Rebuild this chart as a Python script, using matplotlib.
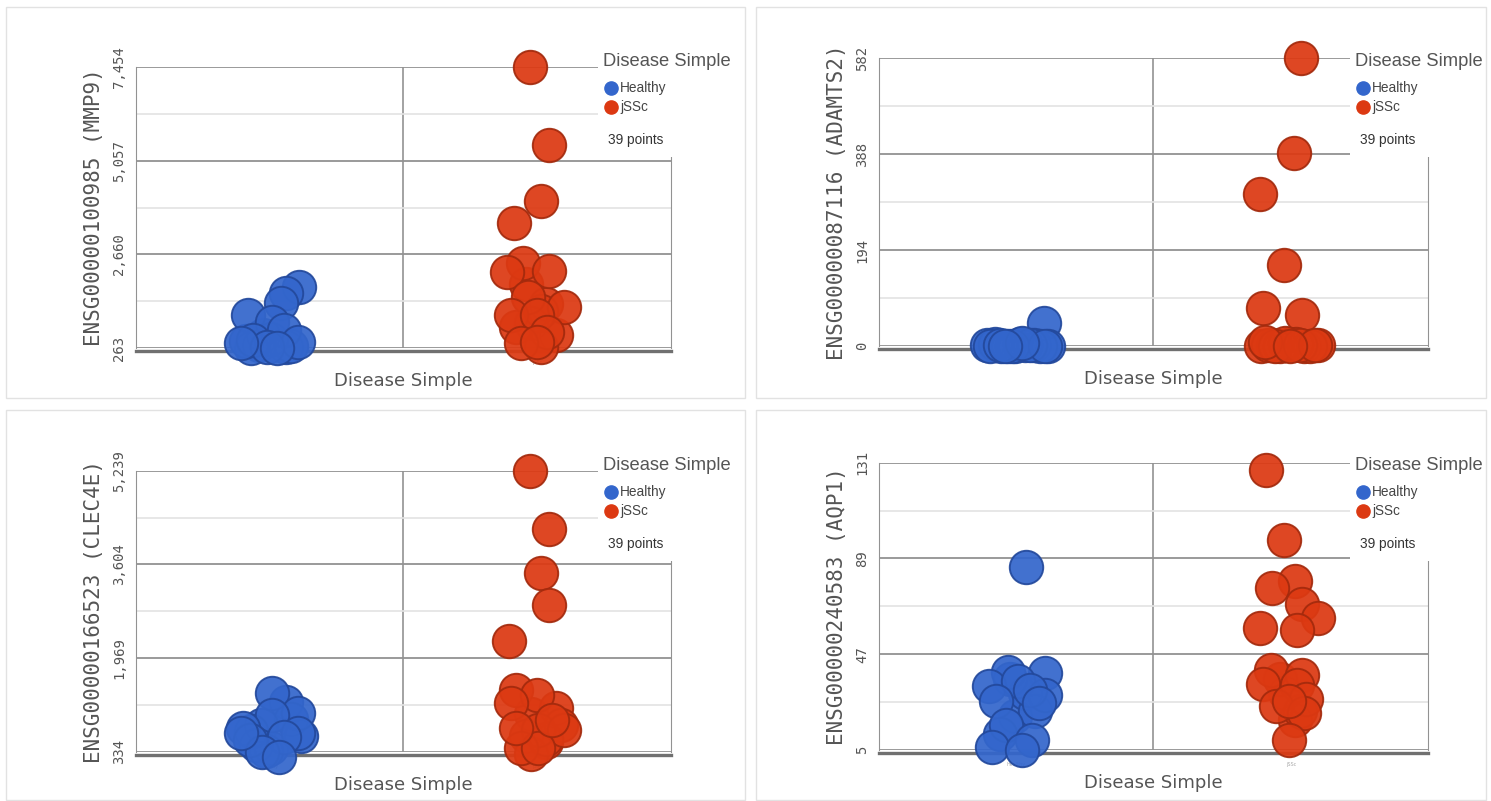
import matplotlib
matplotlib.use("Agg")
import matplotlib.pyplot as plt
from matplotlib.patches import Rectangle
import numpy as np

W, H = 1491, 801

groups = ["Healthy", "jSSc"]
face = {"Healthy": "#3366cc", "jSSc": "#dc3912"}
edge = {"Healthy": "#23499c", "jSSc": "#a32a0d"}

# ENSG00000100985 (MMP9)
mmp9_ticks = [263, 2660, 5057, 7454]
mmp9_healthy = [600, 350, 300, 500, 263, 320, 450, 1825, 1671, 1415, 1108, 929, 724, 468, 417, 289, 263, 391]
mmp9_healthy_jit = [-0.025, -0.040, 0.061, 0.005, -0.070, 0.079, -0.089, 0.109, 0.061, 0.042, -0.081, 0.008, 0.053, -0.063, 0.106, -0.010, 0.027, -0.107]
mmp9_jssc = [1900, 1400, 900, 800, 600, 300, 1200, 7454, 5460, 4026, 3463, 2439, 2209, 2234, 1569, 1313, 1108, 1108, 673, 391, 417]
mmp9_jssc_jit = [-0.042, 0.033, -0.023, -0.079, 0.070, 0.014, 0.014, -0.027, 0.044, 0.014, -0.087, -0.053, -0.113, 0.044, -0.035, 0.100, -0.098, -0.001, 0.036, -0.061, -0.001]

# ENSG00000087116 (ADAMTS2)
adamts2_ticks = [0, 194, 388, 582]
adamts2_healthy = [46, 2, 0, 1, 3, 0, 5, 2, 0, 1, 4, 0, 2, 1, 3, 0, 6, 1]
adamts2_healthy_jit = [0.102, -0.106, -0.055, -0.004, 0.066, 0.117, -0.077, 0.033, 0.087, -0.029, 0.015, -0.095, 0.051, -0.015, -0.058, 0.106, 0.022, -0.040]
adamts2_jssc = [582, 390, 307, 164, 77, 63, 0, 2, 5, 1, 3, 0, 4, 2, 1, 6, 0, 3, 8, 2, 1]
adamts2_jssc_jit = [0.038, 0.013, -0.111, -0.024, -0.100, 0.042, -0.107, -0.064, -0.002, 0.049, 0.100, -0.038, 0.020, -0.082, 0.071, -0.020, -0.056, 0.035, -0.093, 0.089, -0.002]

# ENSG00000166523 (CLEC4E)
clec4e_ticks = [334, 1969, 3604, 5239]
clec4e_healthy = [1200, 900, 800, 450, 400, 600, 350, 700, 1359, 1010, 975, 750, 661, 591, 538, 334, 250, 661]
clec4e_healthy_jit = [0.061, 0.079, -0.033, -0.051, 0.005, 0.117, -0.014, -0.070, 0.008, 0.106, 0.008, -0.100, 0.106, 0.053, -0.074, -0.029, 0.035, -0.107]
clec4e_jssc = [1000, 600, 500, 1100, 300, 800, 550, 5239, 4221, 3449, 2895, 2267, 1411, 1324, 1186, 713, 713, 400, 400, 750, 888]
clec4e_jssc_jit = [-0.023, -0.042, 0.033, 0.070, -0.023, 0.089, 0.033, -0.027, 0.044, 0.014, 0.044, -0.106, -0.079, -0.001, -0.098, 0.003, 0.100, -0.061, 0.003, -0.079, 0.055]

# ENSG00000240583 (AQP1)
aqp1_ticks = [5, 47, 89, 131]
aqp1_healthy = [20, 12, 30, 22, 36, 85.2, 39.4, 38.7, 32.9, 35.1, 29.3, 31.5, 26.4, 25.7, 16, 6.5, 9.3, 5]
aqp1_healthy_jit = [-0.004, -0.058, 0.033, 0.069, -0.022, 0.036, -0.029, 0.106, -0.098, 0.007, 0.106, 0.051, -0.073, 0.084, -0.036, -0.087, 0.058, 0.022]
aqp1_jssc = [30, 18, 36, 22, 128, 97.2, 78.9, 76, 69, 62.8, 58.5, 57.8, 40.3, 38.1, 34, 33.7, 27.2, 24.3, 21.3, 26.4, 9.5]
aqp1_jssc_jit = [-0.020, 0.016, -0.038, 0.035, -0.089, -0.024, 0.016, -0.067, 0.042, 0.100, -0.111, 0.024, -0.071, 0.042, -0.100, 0.024, 0.056, -0.053, 0.049, -0.005, -0.005]

panels = [
    ("ENSG00000100985 (MMP9)", mmp9_ticks, mmp9_healthy, mmp9_healthy_jit, mmp9_jssc, mmp9_jssc_jit),
    ("ENSG00000087116 (ADAMTS2)", adamts2_ticks, adamts2_healthy, adamts2_healthy_jit, adamts2_jssc, adamts2_jssc_jit),
    ("ENSG00000166523 (CLEC4E)", clec4e_ticks, clec4e_healthy, clec4e_healthy_jit, clec4e_jssc, clec4e_jssc_jit),
    ("ENSG00000240583 (AQP1)", aqp1_ticks, aqp1_healthy, aqp1_healthy_jit, aqp1_jssc, aqp1_jssc_jit),
]

# plot area (left, top, right, bottom) in pixels, panel frame, legend anchor
areas = [(135.6, 67, 671, 348), (878.8, 58, 1428, 346), (135.6, 470.7, 671, 751.7), (878.8, 462.7, 1428, 750)]
frames = [(6, 7, 745, 398), (756, 7, 1486, 398), (6, 410, 745, 800), (756, 410, 1486, 800)]
legend_at = [(603, 62), (1355, 62), (603, 466), (1355, 466)]

major = "#929292"
minor = "#e3e3e3"

fig = plt.figure(figsize=(W / 100, H / 100), dpi=100)

for (label, ticks, hv, hj, jv, jj), (l, t, r, b) in zip(panels, areas):
    ax = fig.add_axes([l / W, 1 - b / H, (r - l) / W, (b - t) / H])
    ax.set_xlim(-0.5, 1.5)
    ax.set_ylim(ticks[0], ticks[-1])

    for i, (vals, jit) in enumerate([(hv, hj), (jv, jj)]):
        g = groups[i]
        ax.scatter(i + np.array(jit), vals, s=580, c=face[g], edgecolors=edge[g],
                   linewidths=1.4, alpha=0.93, zorder=3, clip_on=False)

    ax.set_yticks(ticks)
    ax.set_yticklabels(["{:,}".format(v) for v in ticks], rotation=90, va="center",
                       family="DejaVu Sans Mono", fontsize=10, color="#555555")
    mids = [(ticks[k] + ticks[k + 1]) / 2 for k in range(len(ticks) - 1)]
    ax.set_yticks(mids, minor=True)
    ax.grid(True, axis="y", which="major", color=major, lw=1.3, zorder=0)
    ax.grid(True, axis="y", which="minor", color=minor, lw=1.2, zorder=0)
    ax.axvline(0.5, color=major, lw=1.2, zorder=0)
    ax.tick_params(axis="y", which="both", length=0, pad=7)

    # tiny category labels, mostly hidden under the markers
    ax.set_xticks([0, 1])
    ax.set_xticklabels(groups)
    ax.tick_params(axis="x", length=0, pad=6, labelsize=3.5, labelcolor="#aaaaaa")

    ax.spines["top"].set_visible(False)
    ax.spines["left"].set_color(major)
    ax.spines["right"].set_color(major)
    ax.spines["bottom"].set_color("#707070")
    ax.spines["bottom"].set_linewidth(2.4)
    ax.spines["bottom"].set_position(("outward", 2.5))

    ax.annotate(label, xy=(0, 0.5), xycoords="axes fraction", xytext=(-42, 0),
                textcoords="offset pixels", rotation=90, ha="center", va="center",
                family="DejaVu Sans Mono", fontsize=15, color="#555555")
    ax.annotate("Disease Simple", xy=(0.5, 0), xycoords="axes fraction", xytext=(0, -33),
                textcoords="offset pixels", ha="center", va="center",
                fontsize=13, color="#555555")

# frames and legends drawn in pixel space on top
over = fig.add_axes([0, 0, 1, 1], zorder=10)
over.set_xlim(0, W)
over.set_ylim(H, 0)
over.axis("off")
over.patch.set_visible(False)

for (x0, y0, x1, y1) in frames:
    over.add_patch(Rectangle((x0, y0), x1 - x0, y1 - y0, fill=False, ec="#e2e2e2", lw=1))

for (lx, ly) in legend_at:
    over.add_patch(Rectangle((lx - 5, ly - 14), 82, 109, fc="white", ec="none"))
    over.text(lx, ly, "Disease Simple", ha="left", va="center",
              family="Liberation Sans", fontsize=13.2, color="#555555")
    for k, g in enumerate(groups):
        yy = ly + 26 + 19 * k
        over.plot(lx + 8, yy, "o", ms=9.5, color=face[g], mec=face[g])
        over.text(lx + 17, yy, g, ha="left", va="center",
                  family="Liberation Sans", fontsize=9.8, color="#444444")
    over.text(lx + 33, ly + 78, "39 points", ha="center", va="center",
              family="Liberation Sans", fontsize=9.8, color="#333333")

fig.savefig("out.png", dpi=100)
